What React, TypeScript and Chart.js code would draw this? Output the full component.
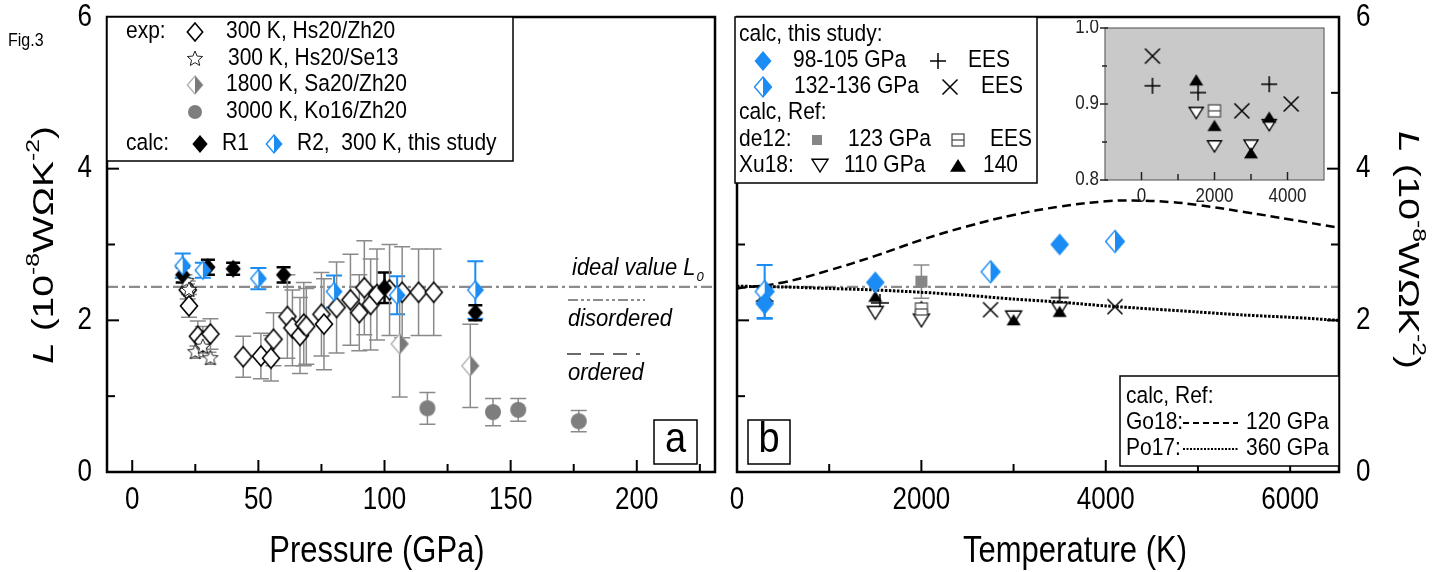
import React, { useEffect, useRef } from 'react';
import { Chart, registerables } from 'chart.js';
Chart.register(...registerables);

// ================= Panel a : L vs pressure =================
const L0 = 2.44;
// exp 300 K, Hs20/Zh20 (open diamonds)
const hsZhP = [22, 22.5, 26, 28, 31, 44, 51, 55, 56, 61.5, 63.5, 66.5, 68, 69, 75, 76, 81, 86.5, 90, 92, 94.5, 97, 102, 107, 113.5, 119.5];
const hsZhL = [2.4, 2.19, 1.79, 1.72, 1.82, 1.52, 1.53, 1.5, 1.75, 2.05, 1.9, 1.8, 1.95, 1.92, 2.08, 1.95, 2.17, 2.27, 2.1, 2.43, 2.21, 2.34, 2.4, 2.37, 2.37, 2.37];
const hsZhErr = [0.12, 0.15, 0.2, 0.2, 0.2, 0.27, 0.3, 0.3, 0.35, 0.55, 0.5, 0.5, 0.55, 0.5, 0.55, 0.6, 0.6, 0.6, 0.5, 0.62, 0.6, 0.6, 0.6, 0.6, 0.57, 0.57];
// exp 300 K, Hs20/Se13 (open stars)
const hsSeP = [21.5, 22.5, 25, 28, 31];
const hsSeL = [2.52, 2.4, 1.58, 1.65, 1.5];
const hsSeErr = [0.08, 0.08, 0.08, 0.08, 0.08];
// exp 1800 K, Sa20/Zh20 (half grey diamonds)
const saP = [106, 134];
const saL = [1.69, 1.4];
const saErr = [0.7, 0.55];
// exp 3000 K, Ko16/Zh20 (grey circles)
const koP = [117, 143, 153, 177];
const koL = [0.84, 0.79, 0.82, 0.67];
const koErr = [0.21, 0.18, 0.15, 0.14];
// calc R1 (black diamonds)
const r1P = [20, 30, 40, 60, 100, 136];
const r1L = [2.6, 2.7, 2.68, 2.6, 2.43, 2.1];
const r1Err = [0.1, 0.1, 0.08, 0.1, 0.2, 0.1];
// calc R2 (half blue diamonds)
const r2P = [20, 28, 50, 80, 105, 136];
const r2L = [2.72, 2.66, 2.55, 2.38, 2.33, 2.4];
const r2Err = [0.16, 0.1, 0.14, 0.21, 0.25, 0.38];

// ================= Panel b : L vs temperature =================
const b98T = [300, 1500, 3500];
const b98L = [2.22, 2.5, 3.0];
const b98Err = [0.2, 0, 0];
const b132T = [300, 2750, 4100];
const b132L = [2.38, 2.64, 3.04];
const b132Err = [0.35, 0, 0];
const eesPlusT = [300, 1550, 3500];
const eesPlusL = [2.25, 2.23, 2.3];
const eesCrossT = [300, 2750, 4100];
const eesCrossL = [2.35, 2.14, 2.18];
const de12T = [2000];
const de12L = [2.51];
const de12Err = [0.22];
const de12EesT = [2000];
const de12EesL = [2.15];
const xu110T = [1500, 2000, 3000, 3500];
const xu110L = [2.12, 2.02, 2.06, 2.17];
const xu140T = [1500, 2000, 3000, 3500];
const xu140L = [2.3, 2.17, 1.99, 2.1];
const go18T = [0, 500, 1000, 1500, 2000, 2500, 3000, 3500, 4000, 4300, 4700, 5000, 5500, 6000, 6530];
const go18L = [2.42, 2.5, 2.66, 2.85, 3.06, 3.24, 3.39, 3.5, 3.57, 3.58, 3.56, 3.52, 3.43, 3.33, 3.22];
const po17T = [0, 500, 1000, 1500, 2000, 2500, 3000, 3500, 4000, 4500, 5000, 5500, 6000, 6530];
const po17L = [2.45, 2.44, 2.42, 2.4, 2.37, 2.33, 2.28, 2.24, 2.19, 2.15, 2.11, 2.07, 2.04, 2.0];

// ================= Inset =================
const inPlusT = [300, 1550, 3500];
const inPlusY = [0.924, 0.915, 0.926];
const inCrossT = [300, 2750, 4100];
const inCrossY = [0.963, 0.891, 0.9];
const inBoxT = [2000];
const inBoxY = [0.891];
const inDownT = [1500, 2000, 3000, 3500];
const inDownY = [0.89, 0.846, 0.847, 0.874];
const inUpT = [1500, 2000, 3000, 3500];
const inUpY = [0.93, 0.87, 0.834, 0.881];

// ================= Ticks =================
const pMajor = [0, 50, 100, 150, 200];
const pLabels = ['0', '50', '100', '150', '200'];
const pMinor = [25, 75, 125, 175, 225];
const lMajor = [0, 2, 4, 6];
const lLabels = ['0', '2', '4', '6'];
const lMinor = [1, 3, 5];
const tMajor = [0, 2000, 4000, 6000];
const tLabels = ['0', '2000', '4000', '6000'];
const tMinor = [1000, 3000, 5000];
const iTMajor = [0, 2000, 4000];
const iTLabels = ['0', '2000', '4000'];
const iTMinor = [1000, 3000];
const iYMajor = [0.8, 0.9, 1.0];
const iYLabels = ['0.8', '0.9', '1.0'];
const iYMinor = [0.85, 0.95];

const BLUE = '#1b8cf3';
const GREY = '#8a8a8a';
const FONT = '"Liberation Sans", Arial, sans-serif';
const TICK_SY = 1.2;
const TITLE_SY = 1.2;
const LEG_SY = 1.1;

function drawSymbol(ctx: CanvasRenderingContext2D, kind: string, x: number, y: number, r: number) {
  ctx.save();
  ctx.setLineDash([]);
  ctx.lineJoin = 'miter';
  const diamond = () => {
    ctx.beginPath();
    ctx.moveTo(x, y - r); ctx.lineTo(x + r * 0.85, y); ctx.lineTo(x, y + r); ctx.lineTo(x - r * 0.85, y); ctx.closePath();
  };
  switch (kind) {
    case 'openDiamond':
      diamond(); ctx.fillStyle = '#fff'; ctx.fill(); ctx.strokeStyle = '#000'; ctx.lineWidth = 1.6; ctx.stroke(); break;
    case 'blackDiamond':
      diamond(); ctx.fillStyle = '#000'; ctx.fill(); break;
    case 'blueDiamond':
      diamond(); ctx.fillStyle = BLUE; ctx.fill(); break;
    case 'halfBlue':
    case 'halfGrey': {
      const edge = kind === 'halfBlue' ? BLUE : '#b0b0b0';
      const fill = kind === 'halfBlue' ? BLUE : '#7a7a7a';
      diamond(); ctx.fillStyle = '#fff'; ctx.fill(); ctx.strokeStyle = edge; ctx.lineWidth = 1.4; ctx.stroke();
      ctx.beginPath(); ctx.moveTo(x, y - r); ctx.lineTo(x + r * 0.85, y); ctx.lineTo(x, y + r); ctx.closePath();
      ctx.fillStyle = fill; ctx.fill();
      break;
    }
    case 'greyCircle':
      ctx.beginPath(); ctx.arc(x, y, r, 0, Math.PI * 2); ctx.fillStyle = '#7e7e7e'; ctx.fill(); break;
    case 'openStar': {
      ctx.beginPath();
      for (let i = 0; i < 10; i++) {
        const a = -Math.PI / 2 + i * Math.PI / 5;
        const rr = i % 2 === 0 ? r : r * 0.45;
        const px = x + rr * Math.cos(a), py = y + rr * Math.sin(a);
        if (i === 0) ctx.moveTo(px, py); else ctx.lineTo(px, py);
      }
      ctx.closePath(); ctx.fillStyle = '#fff'; ctx.fill(); ctx.strokeStyle = '#222'; ctx.lineWidth = 1; ctx.stroke();
      break;
    }
    case 'plus':
      ctx.strokeStyle = '#000'; ctx.lineWidth = 1.5; ctx.beginPath();
      ctx.moveTo(x - r, y); ctx.lineTo(x + r, y); ctx.moveTo(x, y - r); ctx.lineTo(x, y + r); ctx.stroke(); break;
    case 'cross':
      ctx.strokeStyle = '#000'; ctx.lineWidth = 1.5; ctx.beginPath();
      ctx.moveTo(x - r * 0.75, y - r * 0.75); ctx.lineTo(x + r * 0.75, y + r * 0.75);
      ctx.moveTo(x + r * 0.75, y - r * 0.75); ctx.lineTo(x - r * 0.75, y + r * 0.75); ctx.stroke(); break;
    case 'downTri':
      ctx.beginPath(); ctx.moveTo(x - r, y - r * 0.6); ctx.lineTo(x + r, y - r * 0.6); ctx.lineTo(x, y + r); ctx.closePath();
      ctx.fillStyle = '#fff'; ctx.fill(); ctx.strokeStyle = '#000'; ctx.lineWidth = 1.4; ctx.stroke(); break;
    case 'upTri':
      ctx.beginPath(); ctx.moveTo(x - r, y + r * 0.6); ctx.lineTo(x + r, y + r * 0.6); ctx.lineTo(x, y - r); ctx.closePath();
      ctx.fillStyle = '#000'; ctx.fill(); break;
    case 'greySquare':
      ctx.fillStyle = '#858585'; ctx.fillRect(x - r, y - r, 2 * r, 2 * r); break;
    case 'boxMinus':
      ctx.fillStyle = '#fff'; ctx.fillRect(x - r, y - r, 2 * r, 2 * r);
      ctx.strokeStyle = '#444'; ctx.lineWidth = 1.2; ctx.strokeRect(x - r, y - r, 2 * r, 2 * r);
      ctx.beginPath(); ctx.moveTo(x - r, y); ctx.lineTo(x + r, y); ctx.stroke(); break;
  }
  ctx.restore();
}

function makeSymbol(kind: string, r: number): HTMLCanvasElement {
  const size = Math.ceil(2 * r + 6);
  const c = document.createElement('canvas');
  c.width = size; c.height = size;
  const ctx = c.getContext('2d')!;
  drawSymbol(ctx, kind, size / 2, size / 2, r);
  return c;
}

function txt(ctx: CanvasRenderingContext2D, s: string, x: number, y: number, size: number, opt: any = {}) {
  ctx.save();
  ctx.font = `${opt.italic ? 'italic ' : ''}${size}px ${FONT}`;
  ctx.fillStyle = opt.color || '#000';
  ctx.textAlign = opt.align || 'left';
  ctx.textBaseline = 'middle';
  ctx.translate(x, y);
  ctx.scale(opt.sx || 1, opt.sy || 1);
  ctx.fillText(s, 0, 0);
  ctx.restore();
}

function drawLTitle(ctx: CanvasRenderingContext2D, cx: number, cy: number, rot: number, size: number, stretch: number) {
  const segs = [
    { t: 'L', it: true, sup: false }, { t: ' (10', it: false, sup: false }, { t: '-8', it: false, sup: true },
    { t: 'WΩK', it: false, sup: false }, { t: '-2', it: false, sup: true }, { t: ')', it: false, sup: false },
  ];
  ctx.save();
  ctx.translate(cx, cy); ctx.rotate(rot); ctx.scale(stretch, 1);
  ctx.fillStyle = '#000'; ctx.textBaseline = 'middle'; ctx.textAlign = 'left';
  const fontOf = (s: any) => `${s.it ? 'italic ' : ''}${s.sup ? Math.round(size * 0.62) : size}px ${FONT}`;
  let w = 0;
  segs.forEach((s) => { ctx.font = fontOf(s); w += ctx.measureText(s.t).width; });
  let xx = -w / 2;
  segs.forEach((s) => {
    ctx.font = fontOf(s);
    ctx.fillText(s.t, xx, s.sup ? -size * 0.38 : 0);
    xx += ctx.measureText(s.t).width;
  });
  ctx.restore();
}

function seg(ctx: CanvasRenderingContext2D, x1: number, y1: number, x2: number, y2: number) {
  ctx.beginPath(); ctx.moveTo(x1, y1); ctx.lineTo(x2, y2); ctx.stroke();
}

function drawErrorBars(chart: any) {
  const ctx = chart.ctx; const ys = chart.scales.y;
  chart.data.datasets.forEach((ds: any, i: number) => {
    const errs = ds.errorBars; if (!errs) return;
    const meta = chart.getDatasetMeta(i);
    ctx.save(); ctx.strokeStyle = ds.errorColor; ctx.lineWidth = ds.errorWidth || 1.5; ctx.setLineDash([]);
    meta.data.forEach((pt: any, j: number) => {
      const e = errs[j]; if (!e) return;
      const v = ds.data[j].y;
      const t = ys.getPixelForValue(v + e), b = ys.getPixelForValue(v - e);
      const cw = ds.capWidth || 7;
      ctx.beginPath();
      ctx.moveTo(pt.x, t); ctx.lineTo(pt.x, b);
      ctx.moveTo(pt.x - cw, t); ctx.lineTo(pt.x + cw, t);
      ctx.moveTo(pt.x - cw, b); ctx.lineTo(pt.x + cw, b);
      ctx.stroke();
    });
    ctx.restore();
  });
}

function ticksX(ctx: CanvasRenderingContext2D, sc: any, vals: number[], yb: number, len: number) {
  vals.forEach((v) => { const p = sc.getPixelForValue(v); seg(ctx, p, yb, p, yb - len); });
}
function ticksY(ctx: CanvasRenderingContext2D, sc: any, vals: number[], xb: number, len: number) {
  vals.forEach((v) => { const p = sc.getPixelForValue(v); seg(ctx, xb, p, xb + len, p); });
}

function pts(xs: number[], ys: number[]) { return xs.map((x, i) => ({ x, y: ys[i] })); }

function markers(label: string, xs: number[], ys: number[], style: any, extra: any = {}) {
  return { label, data: pts(xs, ys), pointStyle: style, pointRadius: 6, showLine: false, ...extra };
}

function L0Line(chart: any) {
  const { ctx, chartArea: ca, scales } = chart;
  const py = scales.y.getPixelForValue(L0);
  ctx.save(); ctx.strokeStyle = '#8c8c8c'; ctx.lineWidth = 2.2; ctx.setLineDash([11, 4, 3, 4]);
  seg(ctx, ca.left, py, ca.right, py); ctx.restore();
}

function baseOptions(xmin: number, xmax: number, ymin: number, ymax: number, padding: any) {
  return {
    animation: false, responsive: false, events: [],
    layout: { padding, autoPadding: false },
    plugins: { legend: { display: false }, tooltip: { enabled: false } },
    scales: {
      x: { type: 'linear', min: xmin, max: xmax, display: false },
      y: { type: 'linear', min: ymin, max: ymax, display: false },
    },
  };
}

function buildA(canvas: HTMLCanvasElement) {
  const S = {
    open: makeSymbol('openDiamond', 10), star: makeSymbol('openStar', 8), halfG: makeSymbol('halfGrey', 10),
    circ: makeSymbol('greyCircle', 8), black: makeSymbol('blackDiamond', 9), halfB: makeSymbol('halfBlue', 9),
  };
  const L = { sy: LEG_SY };
  const plugin = {
    id: 'panelA',
    beforeDatasetsDraw(chart: any) { L0Line(chart); drawErrorBars(chart); },
    afterDatasetsDraw(chart: any) {
      const { ctx, chartArea: ca, scales: { x, y } } = chart;
      ctx.save();
      ctx.strokeStyle = '#000'; ctx.lineWidth = 2.5; ctx.setLineDash([]);
      ctx.strokeRect(ca.left, ca.top, ca.right - ca.left, ca.bottom - ca.top);
      ctx.lineWidth = 2;
      ticksX(ctx, x, pMajor, ca.bottom, 12); ticksX(ctx, x, pMinor, ca.bottom, 8);
      ticksY(ctx, y, lMajor, ca.left, 12); ticksY(ctx, y, lMinor, ca.left, 8);
      pMajor.forEach((v, i) => txt(ctx, pLabels[i], x.getPixelForValue(v), 500, 26, { align: 'center', sy: TICK_SY }));
      lMajor.forEach((v, i) => txt(ctx, lLabels[i], 92, y.getPixelForValue(v), 26, { align: 'right', sy: TICK_SY }));
      txt(ctx, 'Pressure (GPa)', 377, 552, 31, { align: 'center', sy: TITLE_SY });
      drawLTitle(ctx, 45, 245, -Math.PI / 2, 30, 1.3);
      txt(ctx, 'Fig.3', 8, 41, 16, { sy: 1.15 });
      // legend
      ctx.fillStyle = '#fff'; ctx.fillRect(107, 17, 406, 144);
      ctx.strokeStyle = '#000'; ctx.lineWidth = 1.5; ctx.strokeRect(107, 17, 406, 144);
      txt(ctx, 'exp:', 126, 32, 21, L);
      drawSymbol(ctx, 'openDiamond', 195, 32, 9); txt(ctx, '300 K, Hs20/Zh20', 226, 32, 21, L);
      drawSymbol(ctx, 'openStar', 195, 59, 8); txt(ctx, '300 K, Hs20/Se13', 228, 59, 21, L);
      drawSymbol(ctx, 'halfGrey', 195, 85, 9); txt(ctx, '1800 K, Sa20/Zh20', 226, 85, 21, L);
      drawSymbol(ctx, 'greyCircle', 195, 112, 7); txt(ctx, '3000 K, Ko16/Zh20', 226, 112, 21, L);
      txt(ctx, 'calc:', 126, 144, 21, L);
      drawSymbol(ctx, 'blackDiamond', 200, 144, 9); txt(ctx, 'R1', 222, 144, 21, L);
      drawSymbol(ctx, 'halfBlue', 274, 144, 9); txt(ctx, 'R2,  300 K, this study', 297, 144, 21, L);
      // annotations
      txt(ctx, 'ideal value L', 572, 268, 22, { italic: true, sy: LEG_SY });
      ctx.font = `italic 22px ${FONT}`;
      const wI = ctx.measureText('ideal value L').width;
      txt(ctx, '0', 572 + wI + 1, 277, 13, { italic: true });
      ctx.strokeStyle = '#8c8c8c'; ctx.lineWidth = 2.2; ctx.setLineDash([10, 3, 3, 3, 3, 3]);
      seg(ctx, 568, 300, 645, 300);
      txt(ctx, 'disordered', 568, 319, 22, { italic: true, sy: LEG_SY });
      ctx.strokeStyle = '#6a6a6a'; ctx.setLineDash([14, 9]);
      seg(ctx, 567, 354, 640, 354);
      txt(ctx, 'ordered', 568, 373, 22, { italic: true, sy: LEG_SY });
      ctx.setLineDash([]); ctx.strokeStyle = '#000'; ctx.lineWidth = 1.5;
      ctx.fillStyle = '#fff'; ctx.fillRect(654, 420, 43, 44); ctx.strokeRect(654, 420, 43, 44);
      txt(ctx, 'a', 675.5, 440, 38, { align: 'center', sy: 1.1 });
      ctx.restore();
    },
  };
  return new Chart(canvas, {
    type: 'scatter',
    data: {
      datasets: [
        markers('R2', r2P, r2L, S.halfB, { errorBars: r2Err, errorColor: BLUE, errorWidth: 2, capWidth: 8 }),
        markers('R1', r1P, r1L, S.black, { errorBars: r1Err, errorColor: '#000', errorWidth: 2.5, capWidth: 7 }),
        markers('Ko16', koP, koL, S.circ, { errorBars: koErr, errorColor: GREY, capWidth: 8 }),
        markers('Sa20', saP, saL, S.halfG, { errorBars: saErr, errorColor: GREY, capWidth: 8 }),
        markers('Se13', hsSeP, hsSeL, S.star, { errorBars: hsSeErr, errorColor: GREY, capWidth: 6 }),
        markers('Zh20', hsZhP, hsZhL, S.open, { errorBars: hsZhErr, errorColor: GREY, capWidth: 8 }),
      ],
    },
    options: baseOptions(-10, 231, 0, 6, { left: 107, right: 10, top: 17, bottom: 100 }) as any,
    plugins: [plugin],
  } as any);
}

function buildB(canvas: HTMLCanvasElement) {
  const OX = 725;
  const S = {
    blue: makeSymbol('blueDiamond', 11), halfB: makeSymbol('halfBlue', 11), plus: makeSymbol('plus', 9),
    cross: makeSymbol('cross', 10), sq: makeSymbol('greySquare', 6), box: makeSymbol('boxMinus', 6),
    down: makeSymbol('downTri', 8), up: makeSymbol('upTri', 7),
  };
  const L = { sy: LEG_SY };
  const plugin = {
    id: 'panelB',
    beforeDatasetsDraw(chart: any) { L0Line(chart); drawErrorBars(chart); },
    afterDatasetsDraw(chart: any) {
      const { ctx, chartArea: ca, scales: { x, y } } = chart;
      ctx.save();
      ctx.strokeStyle = '#000'; ctx.lineWidth = 2.5; ctx.setLineDash([]);
      ctx.strokeRect(ca.left, ca.top, ca.right - ca.left, ca.bottom - ca.top);
      ctx.lineWidth = 2;
      ticksX(ctx, x, tMajor, ca.bottom, 12); ticksX(ctx, x, tMinor, ca.bottom, 8);
      ticksY(ctx, y, lMajor, ca.left, 12); ticksY(ctx, y, lMinor, ca.left, 8);
      ticksY(ctx, y, lMajor, ca.right, -12); ticksY(ctx, y, lMinor, ca.right, -8);
      tMajor.forEach((v, i) => txt(ctx, tLabels[i], x.getPixelForValue(v), 500, 26, { align: 'center', sy: TICK_SY }));
      lMajor.forEach((v, i) => txt(ctx, lLabels[i], 1356 - OX, y.getPixelForValue(v), 26, { sy: TICK_SY }));
      txt(ctx, 'Temperature (K)', 1075 - OX, 552, 31, { align: 'center', sy: TITLE_SY });
      drawLTitle(ctx, 1407 - OX, 250, Math.PI / 2, 30, 1.3);
      // legend top-left
      ctx.fillStyle = '#fff'; ctx.fillRect(735 - OX, 17, 302, 166);
      ctx.strokeStyle = '#000'; ctx.lineWidth = 1.5; ctx.strokeRect(735 - OX, 17, 302, 166);
      txt(ctx, 'calc, this study:', 739 - OX, 35, 21, L);
      drawSymbol(ctx, 'blueDiamond', 763 - OX, 61, 10); txt(ctx, '98-105 GPa', 793 - OX, 61, 21, L);
      drawSymbol(ctx, 'plus', 938 - OX, 61, 8); txt(ctx, 'EES', 968 - OX, 61, 21, L);
      drawSymbol(ctx, 'halfBlue', 763 - OX, 87, 10); txt(ctx, '132-136 GPa', 794 - OX, 87, 21, L);
      drawSymbol(ctx, 'cross', 950 - OX, 87, 10); txt(ctx, 'EES', 981 - OX, 87, 21, L);
      txt(ctx, 'calc, Ref:', 739 - OX, 113, 21, L);
      txt(ctx, 'de12:', 739 - OX, 140, 21, L);
      drawSymbol(ctx, 'greySquare', 817 - OX, 140, 5); txt(ctx, '123 GPa', 848 - OX, 140, 21, L);
      drawSymbol(ctx, 'boxMinus', 958 - OX, 140, 6); txt(ctx, 'EES', 990 - OX, 140, 21, L);
      txt(ctx, 'Xu18:', 739 - OX, 166, 21, L);
      drawSymbol(ctx, 'downTri', 820 - OX, 164, 8); txt(ctx, '110 GPa', 844 - OX, 166, 21, L);
      drawSymbol(ctx, 'upTri', 958 - OX, 167, 8); txt(ctx, '140', 983 - OX, 166, 21, L);
      // legend bottom-right
      ctx.fillStyle = '#fff'; ctx.fillRect(1120 - OX, 376, 219, 90);
      ctx.strokeStyle = '#000'; ctx.lineWidth = 1.5; ctx.strokeRect(1120 - OX, 376, 219, 90);
      txt(ctx, 'calc, Ref:', 1126 - OX, 397, 21, L);
      txt(ctx, 'Go18:', 1126 - OX, 423, 21, L);
      ctx.lineWidth = 2.2; ctx.setLineDash([6, 4]); seg(ctx, 1183 - OX, 423, 1238 - OX, 423);
      txt(ctx, '120 GPa', 1246 - OX, 423, 21, L);
      txt(ctx, 'Po17:', 1126 - OX, 449, 21, L);
      ctx.setLineDash([2, 1.5]); seg(ctx, 1183 - OX, 449, 1238 - OX, 449);
      txt(ctx, '360 GPa', 1246 - OX, 449, 21, L);
      ctx.setLineDash([]); ctx.lineWidth = 1.5;
      ctx.fillStyle = '#fff'; ctx.fillRect(748 - OX, 420, 42, 44); ctx.strokeRect(748 - OX, 420, 42, 44);
      txt(ctx, 'b', 769 - OX, 440, 38, { align: 'center', sy: 1.1 });
      ctx.restore();
    },
  };
  return new Chart(canvas, {
    type: 'scatter',
    data: {
      datasets: [
        markers('98-105', b98T, b98L, S.blue, { errorBars: b98Err, errorColor: BLUE, errorWidth: 2, capWidth: 8 }),
        markers('132-136', b132T, b132L, S.halfB, { errorBars: b132Err, errorColor: BLUE, errorWidth: 2, capWidth: 8 }),
        markers('de12', de12T, de12L, S.sq, { errorBars: de12Err, errorColor: GREY, capWidth: 8 }),
        markers('de12 EES', de12EesT, de12EesL, S.box),
        markers('Xu18 140', xu140T, xu140L, S.up),
        markers('Xu18 110', xu110T, xu110L, S.down),
        markers('EES +', eesPlusT, eesPlusL, S.plus),
        markers('EES x', eesCrossT, eesCrossL, S.cross),
        { label: 'Po17', data: pts(po17T, po17L), showLine: true, pointRadius: 0, borderColor: '#000', borderWidth: 3, borderDash: [2.5, 1.5], tension: 0.3 },
        { label: 'Go18', data: pts(go18T, go18L), showLine: true, pointRadius: 0, borderColor: '#000', borderWidth: 2.5, borderDash: [9, 5], tension: 0.4 },
      ],
    },
    options: baseOptions(0, 6530, 0, 6, { left: 12, right: 93, top: 17, bottom: 100 }) as any,
    plugins: [plugin],
  } as any);
}

function buildC(canvas: HTMLCanvasElement) {
  const OX = 1060, OY = 20;
  const S = {
    plus: makeSymbol('plus', 8), cross: makeSymbol('cross', 10), box: makeSymbol('boxMinus', 6),
    down: makeSymbol('downTri', 7), up: makeSymbol('upTri', 7),
  };
  const plugin = {
    id: 'inset',
    beforeDatasetsDraw(chart: any) {
      const { ctx, chartArea: ca } = chart;
      ctx.save(); ctx.fillStyle = '#c9c9c9'; ctx.fillRect(ca.left, ca.top, ca.right - ca.left, ca.bottom - ca.top); ctx.restore();
    },
    afterDatasetsDraw(chart: any) {
      const { ctx, chartArea: ca, scales: { x, y } } = chart;
      ctx.save();
      ctx.strokeStyle = '#666'; ctx.lineWidth = 1.2;
      ctx.strokeRect(ca.left, ca.top, ca.right - ca.left, ca.bottom - ca.top);
      ctx.strokeStyle = '#222'; ctx.lineWidth = 1.5;
      ticksX(ctx, x, iTMajor, ca.bottom, 8); ticksX(ctx, x, iTMinor, ca.bottom, 6);
      ticksY(ctx, y, iYMajor, ca.left - 5, 8); ticksY(ctx, y, iYMinor, ca.left - 3, 5);
      iTMajor.forEach((v, i) => txt(ctx, iTLabels[i], x.getPixelForValue(v), 197 - OY, 17, { align: 'center', color: '#222', sy: 1.15 }));
      iYMajor.forEach((v, i) => txt(ctx, iYLabels[i], 1099 - OX, y.getPixelForValue(v), 17, { align: 'right', color: '#222', sy: 1.15 }));
      ctx.restore();
    },
  };
  return new Chart(canvas, {
    type: 'scatter',
    data: {
      datasets: [
        markers('up', inUpT, inUpY, S.up),
        markers('down', inDownT, inDownY, S.down),
        markers('box', inBoxT, inBoxY, S.box),
        markers('plus', inPlusT, inPlusY, S.plus),
        markers('cross', inCrossT, inCrossY, S.cross),
      ],
    },
    options: baseOptions(-1000, 5000, 0.8, 1.0, { left: 1105 - OX, right: 1340 - 1324, top: 28 - OY, bottom: 200 - (180 - OY) }) as any,
    plugins: [plugin],
  } as any);
}

export default function App() {
  const refA = useRef<HTMLCanvasElement>(null);
  const refB = useRef<HTMLCanvasElement>(null);
  const refC = useRef<HTMLCanvasElement>(null);
  useEffect(() => {
    const charts = [buildA(refA.current!), buildB(refB.current!), buildC(refC.current!)];
    return () => charts.forEach((c) => c.destroy());
  }, []);
  return (
    <div style={{ position: 'absolute', left: 0, top: 0, width: 1432, height: 572, background: '#fff', overflow: 'hidden' }}>
      <canvas ref={refA} width={725} height={572} style={{ position: 'absolute', left: 0, top: 0, width: 725, height: 572 }} />
      <canvas ref={refB} width={707} height={572} style={{ position: 'absolute', left: 725, top: 0, width: 707, height: 572 }} />
      <canvas ref={refC} width={280} height={200} style={{ position: 'absolute', left: 1060, top: 20, width: 280, height: 200 }} />
    </div>
  );
}
